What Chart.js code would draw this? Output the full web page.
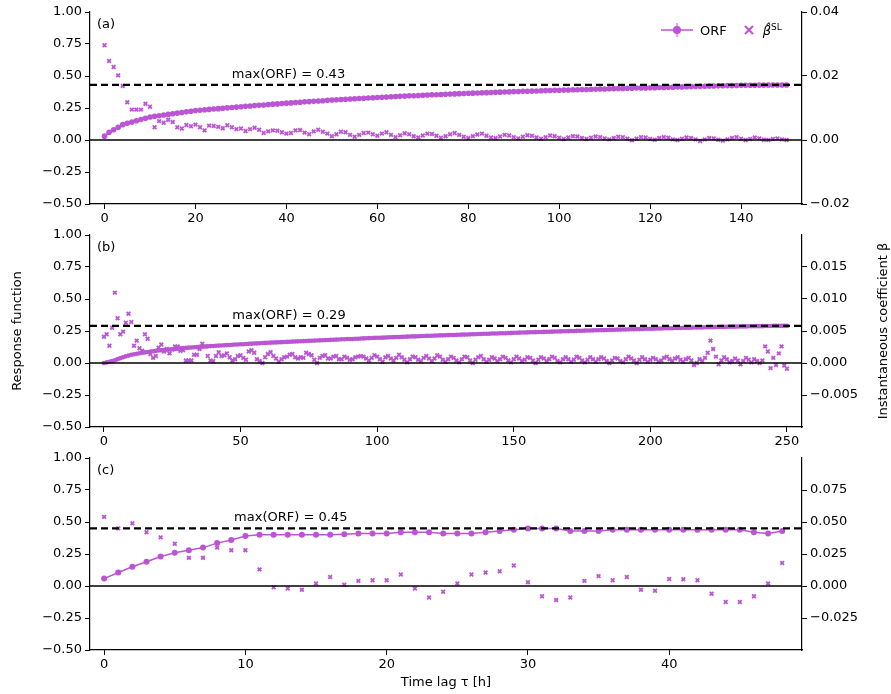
<!DOCTYPE html>
<html>
<head>
<meta charset="utf-8">
<script src="https://cdn.jsdelivr.net/npm/chart.js@4.4.1/dist/chart.umd.min.js"></script>
<style>
  body { margin: 0; background: #fff; font-family: "DejaVu Sans", sans-serif; }
  .panel { position: absolute; left: 0; width: 891px; }
  #legend { position: absolute; left: 660px; top: 22px; font-size: 13px; color: #000; display: flex; align-items: center; }
</style>
</head>
<body>
<div class="panel" style="top:0;height:225px"><canvas id="chartA"></canvas></div>
<div class="panel" style="top:223px;height:225px"><canvas id="chartB"></canvas></div>
<div class="panel" style="top:446px;height:248px"><canvas id="chartC"></canvas></div>
<div id="legend">
  <svg width="34" height="16"><line x1="1" y1="8" x2="33" y2="8" stroke="#ba55d3" stroke-width="1.5"/><line x1="17" y1="1" x2="17" y2="15" stroke="#ba55d3" stroke-width="1"/><circle cx="17" cy="8" r="4" fill="#ba55d3"/></svg>
  <span style="margin-left:6px">ORF</span>
  <svg width="16" height="16" style="margin-left:14px"><path d="M4 4 L12 12 M12 4 L4 12" stroke="#ba55d3" stroke-width="2"/></svg>
  <span style="margin-left:6px;font-style:italic">β̂<sup style="font-style:normal;font-size:9px">SL</sup></span>
</div>
<script>
const orfA = [
  0.03,0.06,0.08,0.10,0.12,0.13,0.14,0.15,0.16,0.17,
  0.18,0.185,0.19,0.195,0.20,0.205,0.21,0.215,0.22,0.225,
  0.23,0.233,0.236,0.239,0.242,0.245,0.248,0.251,0.254,0.257,
  0.26,0.263,0.266,0.269,0.272,0.274,0.277,0.28,0.282,0.285,
  0.288,0.29,0.293,0.295,0.298,0.30,0.302,0.305,0.307,0.31,
  0.312,0.314,0.316,0.318,0.32,0.322,0.324,0.326,0.328,0.33,
  0.332,0.334,0.336,0.338,0.34,0.341,0.343,0.345,0.346,0.348,
  0.35,0.351,0.353,0.354,0.356,0.357,0.359,0.36,0.362,0.363,
  0.365,0.366,0.367,0.369,0.37,0.371,0.373,0.374,0.375,0.376,
  0.378,0.379,0.38,0.381,0.382,0.383,0.385,0.386,0.387,0.388,
  0.389,0.39,0.391,0.392,0.393,0.394,0.395,0.396,0.397,0.398,
  0.399,0.40,0.401,0.402,0.403,0.404,0.405,0.406,0.407,0.407,
  0.408,0.409,0.41,0.411,0.412,0.413,0.414,0.415,0.416,0.417,
  0.418,0.419,0.42,0.421,0.422,0.423,0.424,0.425,0.425,0.426,
  0.427,0.427,0.428,0.428,0.429,0.429,0.43,0.43,0.43,0.43,0.43
];
const betaA = [
  0.0296,0.0247,0.0228,0.0202,0.0169,0.0118,0.0095,0.0095,0.0095,0.0113,0.0104,0.004,0.0059,0.0054,0.0063,0.0056,0.004,
  0.0036,0.0047,0.0043,0.0048,0.0040,0.0030,0.0045,0.0044,0.0041,0.0037,0.0046,0.0040,0.0034,
  0.0036,0.0028,0.0034,0.0038,0.0032,0.0022,0.0027,0.0030,0.0029,0.0024,0.0020,0.0022,0.0030,0.0031,0.0023,0.0018,0.0027,0.0032,0.0026,0.0020,
  0.0012,0.0018,0.0026,0.0024,0.0016,0.0010,0.0016,0.0022,0.0023,0.0018,0.0013,0.0020,0.0024,0.0016,0.0009,0.0015,0.0021,0.0018,0.0012,0.0008,
  0.0014,0.0020,0.0019,0.0013,0.0007,0.0012,0.0018,0.0022,0.0016,0.0010,0.0006,0.0012,0.0017,0.0020,0.0013,0.0008,0.0006,0.0011,0.0016,0.0014,
  0.0009,0.0005,0.0010,0.0015,0.0013,0.0008,0.0004,0.0009,0.0014,0.0012,0.0007,0.0003,0.0008,0.0012,0.0011,0.0006,0.0003,0.0007,0.0011,0.0009,
  0.0005,0.0002,0.0006,0.0010,0.0009,0.0004,-0.0001,0.0004,0.0009,0.0008,0.0003,0.0001,0.0006,0.0009,0.0007,0.0002,0.0000,0.0004,0.0008,0.0006,
  0.0002,-0.0003,0.0002,0.0006,0.0005,0.0001,-0.0002,0.0002,0.0006,0.0009,0.0004,0.0000,0.0003,0.0008,0.0005,0.0001,0.0000,0.0003,0.0005,0.0002,0.0000
];
const orfB = [
  0,0.005,0.01,0.016,0.022,0.03,0.038,0.045,0.052,0.058,
  0.064,0.068,0.072,0.076,0.08,0.083,0.086,0.089,0.092,0.095,
  0.098,0.1,0.102,0.104,0.106,0.108,0.11,0.112,0.114,0.116,
  0.118,0.12,0.121,0.123,0.124,0.126,0.127,0.129,0.13,0.132,
  0.133,0.135,0.136,0.137,0.139,0.14,0.141,0.143,0.144,0.145,
  0.146,0.147,0.149,0.15,0.151,0.152,0.153,0.154,0.156,0.157,
  0.158,0.159,0.16,0.161,0.162,0.163,0.164,0.165,0.166,0.167,
  0.168,0.169,0.17,0.171,0.172,0.173,0.174,0.175,0.176,0.177,
  0.178,0.179,0.18,0.181,0.182,0.183,0.184,0.185,0.186,0.187,
  0.187,0.188,0.189,0.19,0.191,0.192,0.193,0.194,0.195,0.196,
  0.197,0.197,0.198,0.199,0.2,0.201,0.202,0.203,0.203,0.204,
  0.205,0.206,0.207,0.208,0.208,0.209,0.21,0.211,0.212,0.212,
  0.213,0.214,0.215,0.216,0.216,0.217,0.218,0.219,0.219,0.22,
  0.221,0.222,0.222,0.223,0.224,0.225,0.225,0.226,0.227,0.228,
  0.228,0.229,0.23,0.231,0.231,0.232,0.233,0.233,0.234,0.235,
  0.236,0.236,0.237,0.238,0.238,0.239,0.24,0.24,0.241,0.242,
  0.242,0.243,0.244,0.244,0.245,0.246,0.246,0.247,0.248,0.248,
  0.249,0.25,0.25,0.251,0.252,0.252,0.253,0.254,0.254,0.255,
  0.256,0.256,0.257,0.257,0.258,0.259,0.259,0.26,0.261,0.261,
  0.262,0.262,0.263,0.264,0.264,0.265,0.265,0.266,0.267,0.267,
  0.268,0.268,0.269,0.27,0.27,0.271,0.271,0.272,0.272,0.273,
  0.274,0.274,0.275,0.275,0.276,0.276,0.277,0.277,0.278,0.278,
  0.279,0.279,0.28,0.28,0.281,0.281,0.282,0.282,0.283,0.283,
  0.284,0.284,0.285,0.285,0.286,0.286,0.287,0.287,0.287,0.288,
  0.288,0.288,0.289,0.289,0.289,0.29,0.29,0.29,0.29,0.29,0.29
];
const betaB = [
  0.0041,0.0045,0.0027,0.0055,0.011,0.0070,0.0045,0.0049,0.0063,0.0077,
  0.0064,0.0027,0.0035,0.0023,0.0019,0.0045,0.0038,0.0014,0.0008,0.0011,
  0.0024,0.0029,0.0018,0.0022,0.0015,0.0021,0.0026,0.0026,0.0019,0.0020,
  0.0004,0.0004,0.0004,0.0013,0.0013,0.0022,0.0030,0.0026,0.0011,0.0004,
  0.0003,0.0011,0.0017,0.0011,0.0012,0.0015,0.0009,0.0004,0.0006,0.0011,
  0.0012,0.0008,0.0005,0.0018,0.0020,0.0016,0.0006,0.0003,0.0000,0.0009,
  0.0014,0.0017,0.0011,0.0007,0.0002,0.0006,0.0009,0.0010,0.0013,0.0014,
  0.0009,0.0007,0.0009,0.0008,0.0016,0.0014,0.0012,0.0005,0.0000,0.0008,
  0.0011,0.0012,0.0007,0.0007,0.0010,0.0011,0.0006,0.0006,0.0010,0.0008,
  0.0005,0.0006,0.0009,0.0010,0.0011,0.0010,0.0007,0.0004,0.0008,0.0012,
  0.0010,0.0006,0.0002,0.0009,0.0011,0.0007,0.0004,0.0008,0.0013,0.0009,
  0.0005,0.0001,0.0006,0.0010,0.0009,0.0005,0.0003,0.0008,0.0011,0.0007,
  0.0003,0.0007,0.0012,0.0010,0.0005,0.0002,0.0006,0.0010,0.0008,0.0004,
  0.0001,0.0006,0.0010,0.0009,0.0004,0.0000,0.0005,0.0009,0.0011,0.0006,
  0.0002,0.0005,0.0009,0.0007,0.0003,0.0006,0.0010,0.0008,0.0004,0.0001,
  0.0006,0.0010,0.0007,0.0003,0.0005,0.0009,0.0008,0.0004,0.0000,0.0005,
  0.0009,0.0007,0.0003,0.0006,0.0010,0.0008,0.0003,0.0001,0.0006,0.0009,
  0.0006,0.0002,0.0005,0.0010,0.0008,0.0004,0.0001,0.0005,0.0009,0.0006,
  0.0002,0.0006,0.0009,0.0007,0.0003,0.0000,0.0004,0.0008,0.0007,0.0003,
  0.0001,0.0006,0.0010,0.0007,0.0004,0.0000,0.0005,0.0009,0.0006,0.0002,
  0.0005,0.0008,0.0006,0.0002,0.0004,0.0008,0.0010,0.0006,0.0003,0.0007,
  0.0009,0.0005,0.0002,0.0006,0.0008,0.0004,-0.0003,0.0000,0.0006,0.0003,
  0.0008,0.0016,0.0035,0.0022,0.0010,-0.0002,0.0004,0.0009,0.0006,0.0001,
  0.0003,0.0007,0.0004,-0.0002,0.0003,0.0008,0.0005,0.0001,0.0006,0.0003,
  0.0000,0.0004,0.0026,0.0018,-0.0008,0.0008,-0.0003,0.0015,0.0026,-0.0004,-0.0009
];
const orfC = [
  0.058,0.105,0.15,0.19,0.23,0.26,0.28,0.30,0.335,0.36,0.39,0.40,
  0.40,0.40,0.40,0.40,0.40,0.405,0.41,0.41,0.41,0.42,0.42,0.42,0.41,0.41,0.41,0.42,0.43,0.44,
  0.45,0.45,0.45,0.43,0.43,0.43,0.44,0.44,0.44,0.44,0.44,0.44,0.44,0.44,0.44,0.44,0.42,0.41,0.43
];
const betaC = [
  0.054,0.045,0.049,0.042,0.038,0.033,0.022,0.022,0.030,0.028,0.028,0.013,
  -0.001,-0.002,-0.003,0.002,0.007,0.001,0.004,0.0045,0.0045,0.009,-0.002,-0.009,-0.0045,0.002,0.009,0.0105,0.0115,0.016,
  0.003,-0.008,-0.011,-0.009,0.004,0.0077,0.0045,0.007,-0.003,-0.0037,0.0055,0.0053,0.0045,-0.006,-0.0125,-0.0125,-0.008,0.002,0.018
];
const maxLabels = ['max(ORF) = 0.43', 'max(ORF) = 0.29', 'max(ORF) = 0.45'];
const maxValues = [0.43, 0.29, 0.45];

const purple = '#ba55d3';
const font = { family: 'DejaVu Sans', size: 13 };
const minus = s => s.replace('-', '\u2212');

function panel(id, opts) {
  const lags = opts.orf.map((v, i) => i);
  const ctx = document.getElementById(id).getContext('2d');
  const xMin = opts.xRange[0], xMax = opts.xRange[1];
  new Chart(ctx, {
    type: 'line',
    data: {
      datasets: [
        { data: [{ x: xMin, y: 0 }, { x: xMax, y: 0 }], borderColor: '#000', borderWidth: 1.3, pointRadius: 0, yAxisID: 'y' },
        { data: [{ x: xMin, y: opts.max }, { x: xMax, y: opts.max }], borderColor: '#000', borderWidth: 2.2, borderDash: [7, 4], pointRadius: 0, yAxisID: 'y' },
        { data: lags.map(i => ({ x: i, y: opts.beta[i] })), showLine: false, pointStyle: 'crossRot', pointRadius: 2.6, borderWidth: 1.8, borderColor: purple, yAxisID: 'y2' },
        { data: lags.map(i => ({ x: i, y: opts.orf[i] })), borderColor: purple, backgroundColor: purple, borderWidth: 1.5, pointRadius: opts.r, pointBorderWidth: 0, yAxisID: 'y' }
      ]
    },
    options: {
      animation: false,
      responsive: true,
      maintainAspectRatio: false,
      layout: { padding: { top: opts.top, left: 0, right: 0, bottom: 0 } },
      plugins: { legend: { display: false }, tooltip: { enabled: false } },
      scales: {
        x: {
          type: 'linear', min: xMin, max: xMax,
          afterBuildTicks: s => { s.ticks = opts.xTicks.map(v => ({ value: v })); },
          afterFit: s => { s.height = opts.xh; },
          grid: { drawOnChartArea: false, tickLength: 5, color: '#000' },
          border: { color: '#000', width: 1.2 },
          ticks: { color: '#000', font, padding: 2 },
          title: { display: !!opts.xTitle, text: opts.xTitle, color: '#000', font, padding: { top: 2 } }
        },
        y: {
          min: -0.5, max: 1,
          afterBuildTicks: s => { s.ticks = [-0.5, -0.25, 0, 0.25, 0.5, 0.75, 1].map(v => ({ value: v })); },
          afterFit: s => { s.width = 90; },
          grid: { drawOnChartArea: false, tickLength: 5, color: '#000' },
          border: { color: '#000', width: 1.2 },
          ticks: { color: '#000', font, callback: v => minus(v.toFixed(2)) }
        },
        y2: {
          position: 'right', min: opts.r2[0], max: opts.r2[1],
          afterBuildTicks: s => { s.ticks = opts.r2Ticks.map(v => ({ value: v })); },
          afterFit: s => { s.width = 89; },
          grid: { drawOnChartArea: false, tickLength: 5, color: '#000' },
          border: { color: '#000', width: 1.2 },
          ticks: { color: '#000', font, callback: v => minus(v.toFixed(opts.r2Dec)) }
        }
      }
    },
    plugins: [{
      id: 'notes',
      afterDatasetsDraw(chart) {
        const c = chart.ctx, a = chart.chartArea;
        c.save();
        c.fillStyle = '#000';
        c.font = '13px "DejaVu Sans"';
        c.textBaseline = 'top';
        c.fillText(opts.tag, a.left + 7, a.top + 6);
        c.textBaseline = 'bottom';
        c.fillText(opts.label, chart.scales.x.getPixelForValue(opts.labelX), chart.scales.y.getPixelForValue(opts.max) - 4);
        if (opts.yTitle) {
          const cy = (a.top + a.bottom) / 2;
          c.textAlign = 'center';
          c.textBaseline = 'middle';
          c.translate(18, cy);
          c.rotate(-Math.PI / 2);
          c.fillText('Response function', 0, 0);
          c.rotate(Math.PI / 2);
          c.translate(884 - 18, 0);
          c.rotate(-Math.PI / 2);
          c.fillText('Instantaneous coefficient β', 0, 0);
        }
        c.restore();
      }
    }]
  });
}

panel('chartA', { orf: orfA, beta: betaA, max: maxValues[0], label: maxLabels[0], tag: '(a)', labelX: 28, top: 12,
  xRange: [-3.2, 153.4], xTicks: [0, 20, 40, 60, 80, 100, 120, 140], xh: 21, r: 2.8,
  r2: [-0.02, 0.04], r2Ticks: [-0.02, 0, 0.02, 0.04], r2Dec: 2 });
panel('chartB', { orf: orfB, beta: betaB, max: maxValues[1], label: maxLabels[1], tag: '(b)', labelX: 47, top: 12,
  xRange: [-5.1, 255.5], xTicks: [0, 50, 100, 150, 200, 250], xh: 21, r: 2.3, yTitle: true,
  r2: [-0.01, 0.02], r2Ticks: [-0.005, 0, 0.005, 0.01, 0.015], r2Dec: 3 });
panel('chartC', { orf: orfC, beta: betaC, max: maxValues[2], label: maxLabels[2], tag: '(c)', labelX: 9.2, top: 12,
  xRange: [-1, 49.4], xTicks: [0, 10, 20, 30, 40], xh: 44, r: 3, xTitle: 'Time lag τ [h]',
  r2: [-0.05, 0.1], r2Ticks: [-0.025, 0, 0.025, 0.05, 0.075], r2Dec: 3 });
</script>
</body>
</html>
